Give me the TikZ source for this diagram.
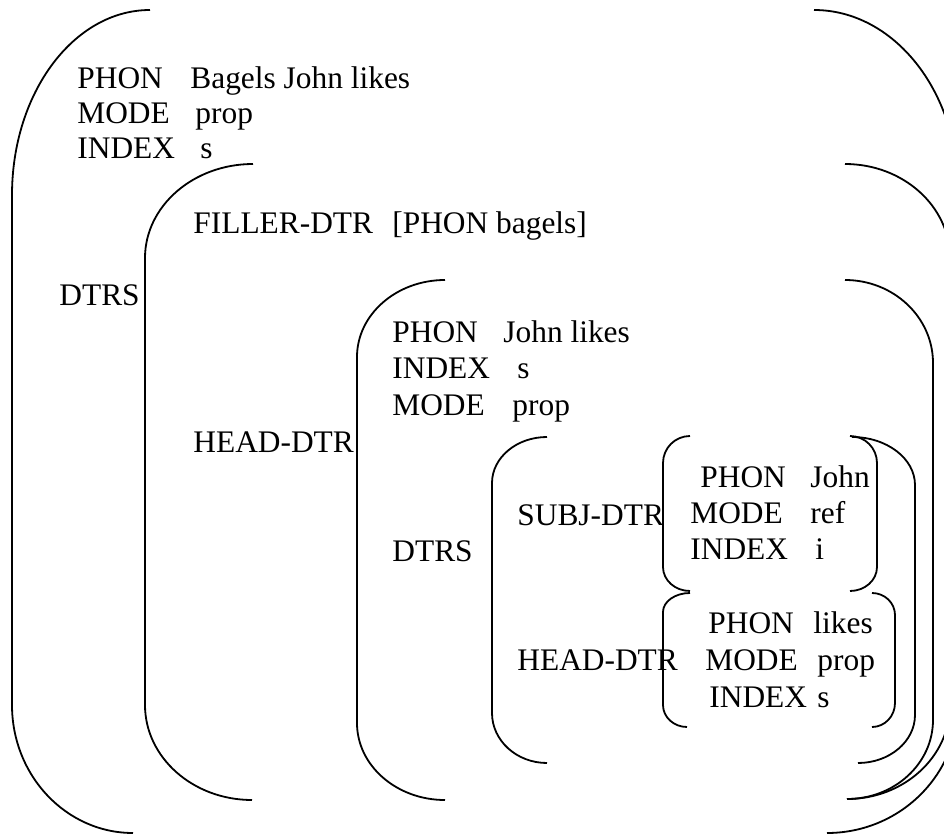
\documentclass[tikz,border=0pt]{standalone}
\usepackage{fontspec}
\setmainfont{Liberation Serif}
\usetikzlibrary{calc}
\tikzset{feat node/.style={anchor=base west,inner sep=0pt,font=\fontsize{15.7}{18}\selectfont}}
\tikzset{brack line/.style={line width=0.9pt}}
% end x, bar x, top y, bar top, bar bottom, bottom y, bottom end x
\newcommand{\avmbrack}[7]{\draw[brack line] (#1,#3) .. controls ($(#1,#3)!0.552!(#2,#3)$) and ($(#2,#4)!0.552!(#2,#3)$) .. (#2,#4) -- (#2,#5) .. controls ($(#2,#5)!0.552!(#2,#6)$) and ($(#7,#6)!0.552!(#2,#6)$) .. (#7,#6);}

\begin{document}
\begin{tikzpicture}[x=0.5pt,y=-0.5pt]
    \clip (0,0) rectangle (944,835);

    % outer matrix
    \node[feat node] (phon) at (77,88) {PHON};
    \node[feat node] (phonv) at (190,88) {Bagels John likes};
    \node[feat node] (mode) at (77,123) {MODE};
    \node[feat node] (modev) at (195,123) {prop};
    \node[feat node] (index) at (77,158) {INDEX};
    \node[feat node] (indexv) at (200,158) {s};
    \node[feat node] (dtrs) at (59,305) {DTRS};

    % dtrs value
    \node[feat node] (filler) at (193,233) {FILLER-DTR};
    \node[feat node] (fillerv) at (392,233) {[PHON bagels]};
    \node[feat node] (head) at (193,452) {HEAD-DTR};

    % head-dtr value
    \node[feat node] (hphon) at (392,342) {PHON};
    \node[feat node] (hphonv) at (503,342) {John likes};
    \node[feat node] (hindex) at (392,378) {INDEX};
    \node[feat node] (hindexv) at (517,378) {s};
    \node[feat node] (hmode) at (392,415) {MODE};
    \node[feat node] (hmodev) at (512,415) {prop};
    \node[feat node] (hdtrs) at (392,561) {DTRS};
    \node[feat node] (subj) at (517,525) {SUBJ-DTR};
    \node[feat node] (hhead) at (517,670) {HEAD-DTR};

    % subj-dtr value
    \node[feat node] (sphon) at (700,487) {PHON};
    \node[feat node] (sphonv) at (810,487) {John};
    \node[feat node] (smode) at (690,523) {MODE};
    \node[feat node] (smodev) at (810,523) {ref};
    \node[feat node] (sindex) at (690,559) {INDEX};
    \node[feat node] (sindexv) at (815,559) {i};

    % inner head-dtr value
    \node[feat node] (lphon) at (708,633) {PHON};
    \node[feat node] (lphonv) at (813,633) {likes};
    \node[feat node] (lmode) at (705,670) {MODE};
    \node[feat node] (lmodev) at (817,670) {prop};
    \node[feat node] (lindex) at (709,707) {INDEX};
    \node[feat node] (lindexv) at (817,707) {s};

    % brackets
    \avmbrack{150}{12}{10}{195}{705}{833}{133}
    \avmbrack{814}{958}{10}{190}{705}{833}{827}
    \avmbrack{253}{145}{164}{258}{705}{800}{252}
    \avmbrack{845}{950}{164}{258}{705}{799}{847}
    \avmbrack{445}{357}{280}{357}{723}{800}{445}
    \avmbrack{845}{933}{280}{363}{720}{799}{847}
    \avmbrack{547}{492}{437}{483}{713}{763}{547}
    \avmbrack{852}{915}{437}{485}{715}{763}{858}
    \avmbrack{690}{663}{436}{463}{567}{591}{690}
    \avmbrack{850}{877}{436}{463}{567}{591}{850}
    \avmbrack{690}{663}{593}{612}{705}{727}{687}
    \avmbrack{872}{895}{593}{615}{703}{727}{872}
\end{tikzpicture}
\end{document}
